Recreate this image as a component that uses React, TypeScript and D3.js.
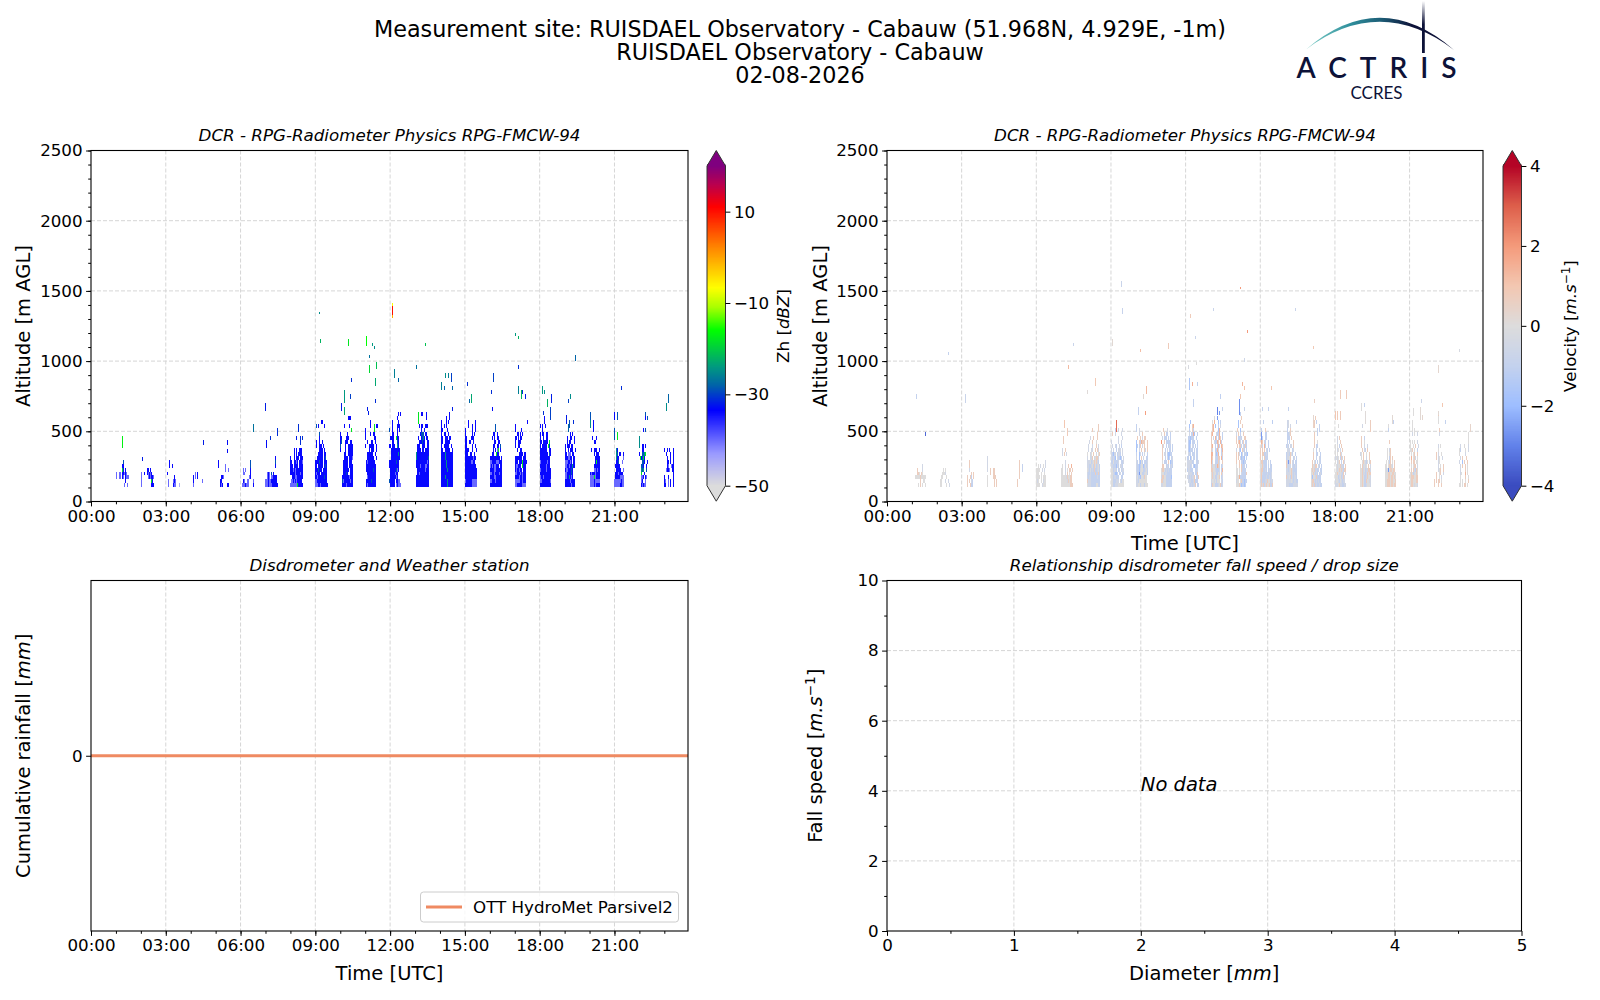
import React, { useRef, useEffect } from 'react';
import * as d3 from 'd3';

const WIDTH = 1600;
const HEIGHT = 1000;

// radar cells: hourly bursts, 2.4 min columns, ~28 m range gates, lowest gate at 100 m
const columnHours = 0.04;
const gateMetres = 28.4;
const firstGate = 100;

const zhLevels: Record<string, number> = { l: -45, m: -40, b: -34, d: -29, t: -25, g: -18 };
const velLevels: Record<string, number> = { n: 0, i: -0.5, u: -1, v: -1.7, w: -2.6, x: -3.3, s: 0.7, o: 1.4, p: 2, r: 2.8 };

const zhBurstHours = [1.01, 2.01, 3.04, 4.08, 5.08, 6.04, 6.99, 7.99, 8.99, 9.99, 10.99, 11.97, 13.03, 14.03, 14.99, 16.0, 17.0, 18.0, 19.0, 20.0, 21.0, 22.0, 22.98];

// top gate first, bottom row is the 100 m gate
const zhBursts: string[][] = [
  ['       d', '      bb', '      gb b', 'm  mm bbmbm', 'm  mm bm bmmm', '         b', '        m  m'],
  ['      bb b', 'm  b  bmbmb', 'm      mbmbbm', 'm         gb', 'm         bbb'],
  ['  b', '  b  b', '', 'b', '       b', ' m    mbm', ' m    bmm   l'],
  ['  m b', 'b m b', 'b        m', 'm'],
  ['b', 'b      m', '       m  m', '', '   bbm', '  bb', '  bmb    bb'],
  ['        d', '        d', ' m m    b', ' mm     b', '       mb', ' bm  mm    m', 'mmmbmmm    b'],
  ['          b', '          d', '          b', '', '  mbm d b', '  mbm mmbbbb', 'mmmbmmbbbbbb', 'mmmbmmmbbbbbb'],
  ['    b b  bbb', '    b b bbbb', 'b   b bbb bbb', 'bb  bbmb bbbm', 'bbb bbbb bbbb', 'bbbmbmbbbbbbb', 'bbbbbmbbbbmbb', '  bbbmmbbbbbb', ' mmbmbmbbbbb', 'mmmmmmmgbbbbb'],
  ['      bb', ' d b     b', '', '    d', '    b', ' b  b  b', ' b  bbb b', '    bbbb b', '   bbbbb bb', '  bbbbbb bd', 'bbbbdbbb bbb', 'bb bbbbb bdb', 'bbbdbbb bbbb', 'bmbbb bbbbbb', 'bbmbbbbbbdbb', 'mmbbbbbbbbbb', 'mmmbbmbbbbbbb'],
  ['        bbb', '', '    b    b', '           g', 'b      b', 'bb    bbb', 'bd   bbb  bb', 'd    b  bbbbb', 'b    b  bbbbb', '    bb  bbbbb', '    bbbb bbbm', '   bbbbb bbb', '   bbbbb bbbb', '   bbbbbb bbb', '   bbbdb  bbb', '  bbbbbbbmbbb', '  dmbbbbbbmbb', '  bbbbmbbbbbb'],
  ['     b', '     b   g bb', 'b        g', 'b    b  bb', 'b        bb', '  b   bb  b', 'b   bbbbb  b', '    b bbb  b', '  bbbbbb  b', '  bbbbbbb  b', ' bmbbbbbbb', ' bbbbbbbbbb', ' bbbbbbbdbb', '  bbbbbbbbb', '  mbbbbbbbb', ' bbbbbdbbbb', ' bmbbbbbbbb'],
  ['         b b', '        b', '   b     b', '   b    bbb', 'd  b    b b', '   bb   b', ' bbbb  gbb', '   bb   db', 'bb bbb  tb', '  bbbbbbbbb', '  bbbbbbbtb', '  bbbbbbbbb', 'bbbbbbbdbb', 'bbbbbbbbbb', ' bbbbbbdmb', ' bbbbbmbb', ' bbbbbbmb', 'dbbbbb bbmm', ' bbbbb mbmmm'],
  ['  g  bb   b', '  g       b', '  g', '   b bb  bbb', '     b  b', '    bddd bb', '  b  bdtb bb', '   bbbdbb  bb', ' bbb  bbb  bb', ' bbbb bb bbbb', 'tbbbbbbbbbbbb', 'tbbbbbbbbbbbd', 'bbbbbbbbbbbmb', 'bbbbmbbbbmmbb', ' bbbbbbbbmbbb', ' bbmbbbbbbbbb', 'bbbbbbbbbbbbb', 'bbbbbbbbbbbbb', 'bbbbbbbbbbbbb'],
  ['        b', '     b  b', 'b    b b', 'b  b b', 'bb    b', 'b  bb  b', 'bb  bbb bb', 'bb  bbbbb', 'b  bbbbb  b', 'bb  bbbbb  b', 'bbbbtbbbbbbb', 'bbbbtbbbbbbb', 'bbbbbtbbbbbb', 'bbbbbtbbbbbb', 'bbbbbbtbbbbb', 'bbbbbbbbbbbb', 'bbbbtbbbbbbb', 'bbbbbbtbbbbb', 'bbbbbbtbbbbb'],
  ['   b      b', '   b   b  b', 'b      b  b', 'b      b b', 'bb    bbb', 'bb  bb  b', 'bb     b  b', 'bbbb   b   b', 'bbb  bb  b', 'bbbbbbbbmbb', 'bbbbbbmmbb', 'bbbbbbbbbbb', 'bbbbbbbbbbbb', 'bbbbbbbbbbbb', 'bbbbbbbbbbbb', 'mbbbbbbmmmmm', 'bbbbbbbmmmmm'],
  ['     d', '     d', '   bb  b', '  b b  bb', '    bb  bb', '   bb  bb d', '   b b mg b', '  bb  gbb', 'bbbbbbbbbb b', 'mmbbbbmmmbbb', 'mbmbmmbbb bb', 'bbbbmmbbbbbb', 'mmbbmbbbbmbb', 'bbbbmmbbbbbb', 'mmbbbmbbbbbb', 'bbbbbbbbbbbb'],
  ['            b', 'b', 'b     b', '  bb b b', 'bb b bb', 'b  bbb', 'b  bb', '  b  bb', '    bbbb bb', 'bbbbbbb bbb', 'bbb bbbgbbbb', 'bmmbbb gbbb', 'bmbbmbb bbb', 'mmbbbmbmbbb', 'bbbbmbbmbbb', 'mmmmmbbmbbb', 'mmbbbbbmmmm'],
  ['    b', '    b', 'b b  b', '  b', 'b bb  bb', 'b  b  bb', 'bb bbbbb g', 'b bbbbb gb', 'bbbbbbb  bb', 'bbbbbbbb db', 'bbbbbbbbbb', 'mbbbbbbmbb', 'bbbbbbmbbb', 'mbbbbbmbbbb', 'bbbbbbbbbbb', 'mbbmbbbbbbb', 'mmbbbbbbbbm', 'bbbbbbbbbbb'],
  ['    d', '    d', '   b', '     b b', '  b  bb  b', '  b bb   b', 'b bbb bb', 'b  b bbb  b', 'bb mmm bb', 'bbbmmbb bb', 'mmmbbmb bb', 'mmbbmbbtbb', 'bmmbbbdb', 'mmbbbbdb', 'mmbbtbmb', 'bbbbbmbbbb', 'bbbbbbmbbb'],
  ['d', 'd', '   b', '   b', '   b', '', '  b   b', '    bb', '     ', ' b  bbb  b', '    b bbb', '     bbbbb', '     bgbbb', '    bbbbbb', '    mmbmbb', 'bmbbbmbbbb', 'mmmmgmbbbb', 'mmmmbmmmmm', 'mmmmbmbbbb'],
  ['b  d', 'b  d', '', '', 'd', 'd  g', 'd  g', '', '', '  tb', '  td bb  b', '  tbb    m', '  bbd   m', ' bbbbb', '  bbbbb  m', ' bbbmbbbb', ' bbbbbmmmm', 'mmmmmmmbmm', 'mmmmmmbbmm'],
  ['      d', '      b d', '', '', '    b d', '', 't', 't', 't  bb b', '   bb', 'b  ddtg', ' gbdgb', '   ddb  b', '  ddb  b', '  tdt  d', '  g  b', '  mmb bm', '  mb  m', '  bmbmm'],
  ['', '', '', '', '', 'b  b b   b', '  b   b  b', '   b  b  b', '   bb b  b', '   bm  mbb', '  mbbm  bb', '         b', 'b   b    b', 'bm  m b  b', 'bb  m b  b'],
];

const zhSpots: [number, number, number, number][] = [
  [1.24, 380, 467, -17], [2.04, 290, 320, -32], [4.48, 403, 438, -32], [5.44, 403, 438, -33], [5.44, 346, 375, -33],
  [6.48, 498, 552, -27], [6.99, 645, 700, -32], [7.48, 470, 520, -31], [7.2, 440, 470, -31], [7.04, 380, 440, -33],
  [8.32, 498, 552, -31], [8.24, 440, 470, -32], [8.47, 440, 470, -31], [8.39, 403, 467, -31],
  [9.16, 1332, 1353, -25], [9.2, 1127, 1155, -22], [10.32, 1105, 1155, -18], [11.04, 1105, 1176, -16], [11.28, 1105, 1127, -24],
  [11.36, 1084, 1105, -25], [11.16, 1020, 1040, -27], [11.44, 942, 996, -21], [11.16, 914, 970, -19], [10.44, 850, 878, -31],
  [11.4, 820, 878, -23], [10.4, 730, 765, -30], [11.4, 700, 730, -31], [10.16, 700, 793, -24], [10.04, 645, 700, -32],
  [10.16, 615, 670, -23], [11.08, 645, 672, -32], [11.12, 615, 645, -32],
  [12.08, 1395, 1415, -7], [12.08, 1330, 1395, 10], [12.08, 1310, 1330, -1],
  [12.16, 878, 942, -26], [12.32, 850, 878, -28], [13.4, 1105, 1127, -21], [13.04, 942, 970, -27], [14.2, 878, 914, -25],
  [14.33, 878, 914, -26], [14.45, 850, 914, -30], [14.05, 793, 850, -26], [14.17, 793, 822, -28], [14.49, 793, 822, -28],
  [14.49, 645, 672, -32], [15.09, 820, 850, -31], [16.13, 850, 914, -30], [16.05, 765, 793, -31], [15.25, 700, 765, -23],
  [15.17, 700, 730, -28], [16.09, 645, 672, -33], [17.01, 1176, 1197, -24], [17.13, 1155, 1176, -22], [17.13, 942, 970, -31],
  [17.13, 765, 822, -26], [17.25, 730, 793, -22], [17.3, 765, 793, -31], [17.41, 730, 765, -32], [19.42, 1000, 1040, -28],
  [18.1, 765, 822, -24], [18.18, 765, 793, -25], [18.46, 700, 765, -32], [18.3, 672, 730, -22], [18.42, 580, 672, -30],
  [18.13, 615, 645, -31], [19.22, 730, 765, -25], [19.14, 700, 730, -30], [19.06, 552, 615, -32], [19.34, 552, 580, -31],
  [19.14, 495, 552, -28], [20.02, 523, 580, -25], [21.26, 793, 822, -31], [23.15, 700, 765, -28], [23.07, 645, 700, -25],
];

const velBurstHours = [1.13, 2.11, 3.2, 4.0, 5.17, 6.0, 7.01, 8.03, 9.0, 10.0, 11.0, 12.0, 13.03, 14.03, 15.0, 16.03, 17.03, 18.0, 19.0, 20.0, 21.0, 22.0, 23.0];

const velBursts: string[][] = [
  ['       i', '  s    i', '  ssn sn', 'nnnnnsnnnnn', '     s  nn', '   n s n  n'],
  ['    n n', '   nnni', ' nnn   n', 'n n   i  i', 'n n    n  i'],
  ['  s', '  s', '  i', '    s s', 's  su s', 's s iu', 's  suu'],
  ['', 'i', 'i', 'i   ', 'i  s  ss', '   s  ss', 'n     ss s', 'n      s  s', 'n      s  s'],
  ['', '   s', '   s  u', '   s  u', '   s', '   s', ' s', ' s'],
  ['         i', '  n i  n i', 'nnnn  i i', 'nnn  n  n', 'nnnn n nnn', 'nin  n inn', 'nnnn  innn'],
  ['  s', '  s', '', ' i  s', ' i s i', '', '    i', ' n  i  s  o', 'nn  i n ss s', 'nn  i s n s', 'nnnnnisnnss', 'nnnnnnisnss', 'nnnnnnnnnsss'],
  ['           s', '     s     s', '          s', '   i  s   s', '  i  s   n', ' i   i   s i', ' i  ii  s si', 'n  in s  i ns', 'i  iis inssi', 'iiinuinsnsiu', 'iiuuinusnuinu', 'niunuiusuuinu', 'iuuiuuuusuusu', 'iuiiuuuuuuiuu', 'siiiuuuuuuuuu', 'niiiuuuuunnuu'],
  ['    u  i   i', ' s  i     i', '       i   i', 'i      i  i', ' i  iu  i u', 'i i  u iii i', 'iuvii uiiu i', 'iuiuv iuuvu i', 'uunuuuui  uui', 'iiuuuviu iiu', 'nnuiiu ui uii', 'nniuvvu ui uu', 'nnuiiuuu  uu', 'nnuuuiii iunn', 'nnuuiiinnnnnn'],
  ['u', 'u  i', '   i  s', ' s  s i ss', 'v  suosss  s', 'vu us i s  s', 'v  i s  si s', 'u  vi u i  u', 'i  v s i  uu', 'iu uvnu uuui', 'iuuvunnvunui', 'iuuvinnuuinu', 'nuuwnnuuinnu', 'inuuvnnisnn', 'iiunnnnnnnn', 'iinnunnnunnn'],
  ['  s   i', 'n  s uu  u', ' i uuu u u', 'p  s uuuui', ' si  u uiu u', ' s  u i uu u', ' s ii uvvuu', ' s  u ivu ui', ' n uuu s vuu', ' ss  uiu uiu', 'nssnuiuiuuu', 'nnnuiiuuuuu', 'issnnuuuuuv', 'ssinnuuuuuu', 'iinnnuuuuuu'],
  ['    v', '   v  so', '   u  su', '   i uuov  u', '  uuvuuu  u', '  uvv uuu  u', '  uvu iu u u', '  uvuuu u uu', '  iuu uuu uu', ' uu vi uu uu', ' iiiiiuu  uui', ' iiiui uvuuu', ' uiiuuu  uui', '  iiiiuu uus', ' iiuiuiis uus', '  iiiuuisuuu', '   iuiuiis uu'],
  ['   n  w', ' n o   v u', ' so v  u i', ' so    vo', 'so   iuuo  u', 's i ou uos u', 's  iuuos ou', 'so  u uou os', 'si  uuoi  uo', 'oo  ivuo  us', 'os  iuuss ou', 'oi  uuusi  s', 'sinnuiosi ui', 'ssnniuuui uo', 'nsinnuuni si', 'nsinuunns ui', 'inninunnn iu', 'usnnuuuinsui'],
  ['    u', '     s', '  v s', '  v   s', ' s  v', 'i s u  s', 's uuiu  ss', 's soi us uu', ' s ssu iusu', 'i  uv siu u', 's si vi uuuv', 's s ivuuv u', 's  s uuvuu', 'n  s suuu u', 'nn n suuuu', 'nn n iuuuus', 'nnnouuuuuu', 'inn nsuuvuu', 'nnnsivuuvu'],
  ['i  u', '', ' u   s', ' w   uu', ' wu  uu', ' os iu  u', ' si ou  u', 's s s iu u', 's ssuuiu', 's n suuu', 'nssuuuu i u', 'nnsiuuu u uu', 'nssuuiu uiuu', 'nsiuuuuiuuui', 'nsuuuuiuuiui', 'isuuuiisnnuii', 'nsisuisnnsuus'],
  ['  i', '  i i', ' u  s', ' uuis', ' uuu s', ' u u   s', 'uiu ii s', ' iii  ui', 'uiiusnu  u', 'uiins  ui u', 'siwis iu uu', 'siuii iuuiu', 'iiuinsiuuuu', 'iiiinsiuiuu', 'siinusiuiiu', 'iiiiiniuiiuu', 'iiiuuuuiiiii'],
  ['    s', '   s u', '   s', '      u', '   s  u', '   s', '   s  n', '   s uu', '  n  u  i', '  s  uu  u', '  s  u  iu', ' s nu u iu', ' sniss iu u', 'nsnsuiuu uu', 'nnsiuiu uiu', 'nvnnisuuuu', 'nssiuiuiuu', 'nsisuiuuiuu'],
  ['   n', '', '', '  i s', '  i  s', 'n n u s', 'n in i s', 'n n  si', 'inin usi s', 'n ins u si', ' ninnsiiu s', ' ninsnsiuss', 'nnsninius i', 'nnnuinuisi', 'inniuniuii', 'iiinsiiuuii'],
  ['  i', '', '', ' s  u', ' s  n', ' s  i  i', '  s iu s', 'in s  n  s', ' n s  i  s', '  nsniun is', 'n sinin s i', 'nnsinuiissi', 'nnsiiuisnss', 'nnsnuuisnni', 'nnsnuusnnii', 'nnsnuuinnni'],
  ['   n', '   u', '', '', '    s', '', '  n is', '  n ns', '  n us s', ' n nus n s', 'nn nssni s', 'ninwnssnss', 'nnnssnnssnn', 'nnnssnssnsn', 'nnsssnssnns', 'nnsssnssnss'],
  ['   n', '   n', '', '  n', '  n', '  n n', '  i n  i', '', 'n n n  i', 'n  n s  i', 'nns n  u', ' n ns  s', ' o nsi n', ' s ss nn', ' n nss i', ' s siusn', 'nsnuinsn', 'nsssnnss', 'nssnnnss', 'nssninni'],
  ['    s', '    n', '    n', '', '     s', '     i', '', '', '    i n', '    n', '  s i  n', '  s in  i', '    in', '    i n  s', '    ins  s', '  s  ns  i', '  s  n i', 's s ss n', 's   s  s'],
  ['', '', '', '', '', '         n', '         n', '         n', ' i   n   i', 'nu    n  i', 'n     i', ' i s   s', 'i  v s  s', ' i s  s n', ' i    s n', ' in   o n', ' n    s  n', ' n n  n  s', 'nn n ss n'],
];

const velSpots: [number, number, number, number][] = [
  [1.15, 730, 765, -1], [1.51, 467, 495, -3.5], [2.47, 1040, 1062, -1], [3.15, 700, 765, -0.8], [7.47, 1105, 1127, -0.8],
  [7.27, 942, 970, 1.3], [8.35, 820, 878, 0.9], [8.03, 765, 793, 0.1], [7.1, 523, 580, 1], [7.23, 467, 523, 0.8],
  [9.05, 1105, 1155, 0.2], [9.39, 1530, 1570, -0.8], [9.43, 1332, 1375, -0.9], [10.15, 1062, 1084, 1.2], [11.31, 1084, 1127, 0.8],
  [10.39, 765, 822, 1.3], [10.28, 730, 765, 0.2], [10.08, 615, 672, -1], [10.36, 615, 645, 1.9], [9.19, 495, 580, 2.8],
  [14.2, 1510, 1530, 2], [12.16, 1310, 1332, 0.8], [13.12, 1354, 1375, -0.8], [16.4, 1354, 1375, -0.8], [14.48, 1197, 1218, 2],
  [12.36, 1155, 1176, -0.8], [17.12, 1084, 1105, 0.9], [14.36, 994, 1020, -0.6], [12.4, 970, 996, 0], [12.08, 942, 970, -0.2],
  [12.12, 793, 878, -1.6], [12.24, 820, 850, 1.5], [12.44, 820, 850, -1], [14.28, 820, 850, 1.4], [14.36, 793, 820, 1.1],
  [15.44, 793, 822, 1], [13.4, 730, 765, -1.1], [22.16, 914, 970, 0.3], [23.0, 1062, 1084, -0.3], [18.2, 730, 793, 0.8],
  [18.44, 730, 793, 0.8], [17.16, 700, 730, 0.6], [12.28, 672, 730, -1], [14.19, 730, 765, 0.9], [14.13, 615, 730, -2.8],
  [14.36, 645, 672, -0.8], [13.48, 645, 672, -0.9], [15.08, 645, 672, -1], [15.32, 645, 672, -1], [16.12, 645, 672, -1],
  [19.03, 645, 700, 0], [19.16, 672, 700, -1], [13.27, 615, 672, -3], [13.36, 615, 645, -2.6], [13.04, 615, 672, 0.2],
  [21.44, 700, 730, -0.7], [22.32, 672, 700, 1], [22.16, 615, 645, 0.2], [21.4, 580, 672, 0.2], [21.48, 580, 615, 0.3],
  [20.28, 552, 615, 0.2], [19.21, 552, 645, 0.1], [17.99, 580, 645, 1], [18.08, 580, 645, 0.8], [18.2, 580, 645, 0.8],
  [17.12, 580, 615, 0.3], [20.32, 552, 580, -1], [22.44, 552, 580, -1], [23.44, 495, 552, 0.4], [15.48, 552, 580, -1.2],
  [16.08, 523, 580, -0.6], [16.44, 552, 580, -1], [17.36, 495, 552, -1], [17.12, 523, 580, 0.5], [19.39, 495, 580, 0.7],
];

const zhStops = [-50, -43, -33.5, -28, -24, -16, -11, -6.7, 2.5, 11, 16, 20];
const zhColors = ['#dcdcdc', '#9a9aff', '#0000ff', '#0064a8', '#009a80', '#00ff00', '#a8ff00', '#ffff00', '#ff8000', '#ff0000', '#b80050', '#7f007f'];
const velStops = [-4, -3, -2, -1, 0, 1, 2, 3, 4];
const velColors = ['#3b4cc0', '#6282ea', '#9ebeff', '#c4d2ee', '#dddcdc', '#f3c7b1', '#f49a7b', '#dd5f4b', '#b40426'];

const hourTicks = [0, 3, 6, 9, 12, 15, 18, 21];
const hourMinorTicks = d3.range(0, 24);
const altitudeTicks = [0, 500, 1000, 1500, 2000, 2500];
const altitudeMinorTicks = d3.range(0, 2501, 100);
const diameterTicks = [0, 1, 2, 3, 4, 5];
const diameterMinorTicks = [0.5, 1.5, 2.5, 3.5, 4.5];
const fallSpeedTicks = [0, 2, 4, 6, 8, 10];
const fallSpeedMinorTicks = [1, 3, 5, 7, 9];
const zhBarTicks = [10, -10, -30, -50];
const velBarTicks = [4, 2, 0, -2, -4];
const rainfallTimes = [0, 24];
const rainfallValues = [0, 0];

const FONT = '"DejaVu Sans", sans-serif';
const GRID = '#d6d6d6';
const NAVY = '#0d1238';
const TICK_SIZE = 16.7;
const LABEL_SIZE = 19.5;

const hhmm = (h: number) => `${String(h).padStart(2, '0')}:00`;
const minus = (v: number | string) => String(v).replace('-', '\u2212');

const App: React.FC = () => {
  const svgRef = useRef<SVGSVGElement>(null);

  useEffect(() => {
    if (!svgRef.current) return;
    const svg = d3.select(svgRef.current);
    svg.selectAll('*').remove();
    svg.attr('font-family', FONT).attr('fill', '#000');
    const defs = svg.append('defs');

    const zhColor = d3.scaleLinear<string>().domain(zhStops).range(zhColors).clamp(true);
    const velColor = d3.scaleLinear<string>().domain(velStops).range(velColors).clamp(true);

    const drawFrame = (
      x: d3.ScaleLinear<number, number>, y: d3.ScaleLinear<number, number>,
      xTicks: number[], xMinor: number[], yTicks: number[], yMinor: number[],
      xFmt: (v: number) => string, title: string,
    ) => {
      const [x0, x1] = x.range();
      const [y1, y0] = y.range();
      const g = svg.append('g');
      const grid = g.append('g').attr('stroke', GRID).attr('stroke-width', 1).attr('stroke-dasharray', '4,2');
      xTicks.filter(t => t > x.domain()[0] && t < x.domain()[1]).forEach(t => {
        grid.append('line').attr('x1', x(t)).attr('x2', x(t)).attr('y1', y0).attr('y2', y1);
      });
      yTicks.filter(t => t > y.domain()[0] && t < y.domain()[1]).forEach(t => {
        grid.append('line').attr('y1', y(t)).attr('y2', y(t)).attr('x1', x0).attr('x2', x1);
      });
      const marks = g.append('g');
      const axes = g.append('g');
      const addAxis = (sel: any) => {
        sel.selectAll('.domain').remove();
        sel.selectAll('text').attr('font-size', TICK_SIZE).attr('font-family', FONT).attr('fill', '#000');
        sel.selectAll('line').attr('stroke', '#000').attr('stroke-width', 1);
      };
      axes.append('g').attr('transform', `translate(0,${y1})`)
        .call(d3.axisBottom(x).tickValues(xMinor.filter(t => t <= x.domain()[1])).tickSize(2.8).tickFormat(() => ''))
        .call(addAxis);
      axes.append('g').attr('transform', `translate(0,${y1})`)
        .call(d3.axisBottom(x).tickValues(xTicks).tickSize(4.9).tickPadding(3.5).tickFormat(d => xFmt(+d)))
        .call(addAxis);
      axes.append('g').attr('transform', `translate(${x0},0)`)
        .call(d3.axisLeft(y).tickValues(yMinor).tickSize(2.8).tickFormat(() => ''))
        .call(addAxis);
      axes.append('g').attr('transform', `translate(${x0},0)`)
        .call(d3.axisLeft(y).tickValues(yTicks).tickSize(4.9).tickPadding(3.5).tickFormat(d => String(d)))
        .call(addAxis);
      axes.append('rect').attr('x', x0).attr('y', y0).attr('width', x1 - x0).attr('height', y1 - y0)
        .attr('fill', 'none').attr('stroke', '#000').attr('stroke-width', 1.1);
      svg.append('text').attr('x', (x0 + x1) / 2).attr('y', y0 - 9.5).attr('text-anchor', 'middle')
        .attr('font-size', TICK_SIZE).attr('font-style', 'italic').text(title);
      return marks;
    };

    const axisLabel = (x: number, y: number, rotate: boolean) => {
      const t = svg.append('text').attr('text-anchor', 'middle').attr('font-size', LABEL_SIZE);
      t.attr('transform', rotate ? `translate(${x},${y}) rotate(-90)` : `translate(${x},${y})`);
      return t;
    };

    const drawCells = (
      marks: d3.Selection<SVGGElement, unknown, null, undefined>,
      x: d3.ScaleLinear<number, number>, y: d3.ScaleLinear<number, number>,
      hours: number[], bursts: string[][], levels: Record<string, number>,
      spots: [number, number, number, number][], color: (v: number) => string,
    ) => {
      const w = x(columnHours) - x(0);
      const cells: { t: number; a0: number; a1: number; v: number }[] = [];
      bursts.forEach((rows, b) => {
        rows.forEach((row, r) => {
          const gate = rows.length - 1 - r;
          row.split('').forEach((c, col) => {
            if (levels[c] === undefined) return;
            cells.push({
              t: hours[b] + col * columnHours,
              a0: firstGate + gate * gateMetres,
              a1: firstGate + (gate + 1) * gateMetres,
              v: levels[c],
            });
          });
        });
      });
      spots.forEach(([t, a0, a1, v]) => cells.push({ t, a0, a1, v }));
      marks.selectAll('rect.cell').data(cells).enter().append('rect')
        .attr('class', 'cell')
        .attr('x', d => x(d.t))
        .attr('y', d => y(d.a1))
        .attr('width', w)
        .attr('height', d => y(d.a0) - y(d.a1))
        .attr('fill', d => color(d.v))
        .attr('shape-rendering', 'crispEdges');
    };

    const drawColorbar = (
      x0: number, x1: number, bar: d3.ScaleLinear<number, number>, ticks: number[],
      color: (v: number) => string,
    ) => {
      const [vMin, vMax] = bar.domain();
      const [yBottom, yTop] = bar.range();
      const g = svg.append('g');
      const tip = 15.5;
      const steps = d3.range(0, 256).map(i => vMin + ((vMax - vMin) * i) / 255);
      g.selectAll('rect').data(steps).enter().append('rect')
        .attr('x', x0).attr('width', x1 - x0)
        .attr('y', d => bar(d) - (yBottom - yTop) / 255 - 0.5)
        .attr('height', (yBottom - yTop) / 255 + 1)
        .attr('fill', d => color(d));
      const mid = (x0 + x1) / 2;
      g.append('path').attr('d', `M${x0},${yTop}L${mid},${yTop - tip}L${x1},${yTop}Z`).attr('fill', color(vMax));
      g.append('path').attr('d', `M${x0},${yBottom}L${mid},${yBottom + tip}L${x1},${yBottom}Z`).attr('fill', color(vMin));
      g.append('path')
        .attr('d', `M${x0},${yTop}L${mid},${yTop - tip}L${x1},${yTop}L${x1},${yBottom}L${mid},${yBottom + tip}L${x0},${yBottom}Z`)
        .attr('fill', 'none').attr('stroke', '#333').attr('stroke-width', 1);
      const axis = g.append('g').attr('transform', `translate(${x1},0)`)
        .call(d3.axisRight(bar).tickValues(ticks).tickSize(4.9).tickPadding(3.5).tickFormat(d => minus(String(d))));
      axis.select('.domain').remove();
      axis.selectAll('text').attr('font-size', TICK_SIZE).attr('font-family', FONT).attr('fill', '#000');
      axis.selectAll('line').attr('stroke', '#000').attr('stroke-width', 1);
      return g;
    };

    // top-left reflectivity
    const xZh = d3.scaleLinear().domain([0, 23.95]).range([91, 688]);
    const yZh = d3.scaleLinear().domain([0, 2500]).range([501.5, 150.5]);
    const zhMarks = drawFrame(xZh, yZh, hourTicks, hourMinorTicks, altitudeTicks, altitudeMinorTicks, hhmm,
      'DCR - RPG-Radiometer Physics RPG-FMCW-94');
    drawCells(zhMarks, xZh, yZh, zhBurstHours, zhBursts, zhLevels, zhSpots, zhColor);
    axisLabel(30, yZh(1250), true).text('Altitude [m AGL]');

    // top-right velocity
    const xVel = d3.scaleLinear().domain([0, 23.95]).range([887, 1483]);
    const yVel = d3.scaleLinear().domain([0, 2500]).range([501.5, 150.5]);
    const velMarks = drawFrame(xVel, yVel, hourTicks, hourMinorTicks, altitudeTicks, altitudeMinorTicks, hhmm,
      'DCR - RPG-Radiometer Physics RPG-FMCW-94');
    drawCells(velMarks, xVel, yVel, velBurstHours, velBursts, velLevels, velSpots, velColor);
    axisLabel(826.5, yVel(1250), true).text('Altitude [m AGL]');
    axisLabel((887 + 1483) / 2, 550, false).text('Time [UTC]');

    // colorbars
    const barZh = d3.scaleLinear().domain([-50, 20]).range([485.7, 166]);
    const zhBar = drawColorbar(707, 725.5, barZh, zhBarTicks, zhColor);
    const zhLabel = zhBar.append('text').attr('transform', 'translate(789,326) rotate(-90)').attr('text-anchor', 'middle').attr('font-size', TICK_SIZE);
    zhLabel.append('tspan').text('Zh [');
    zhLabel.append('tspan').attr('font-style', 'italic').text('dBZ');
    zhLabel.append('tspan').text(']');

    const barVel = d3.scaleLinear().domain([-4, 4]).range([485.7, 166]);
    const velBar = drawColorbar(1503, 1521.5, barVel, velBarTicks, velColor);
    const velLabel = velBar.append('text').attr('transform', 'translate(1576,326) rotate(-90)').attr('text-anchor', 'middle').attr('font-size', TICK_SIZE);
    velLabel.append('tspan').text('Velocity [');
    velLabel.append('tspan').attr('font-style', 'italic').text('m.s');
    velLabel.append('tspan').attr('dy', -6).attr('font-size', 12).text('\u22121');
    velLabel.append('tspan').attr('dy', 6).text(']');

    // bottom-left cumulative rainfall
    const xRain = d3.scaleLinear().domain([0, 23.95]).range([91, 688]);
    const yRain = d3.scaleLinear().domain([-1, 1]).range([931, 580.5]);
    const rainMarks = drawFrame(xRain, yRain, hourTicks, hourMinorTicks, [0], [], hhmm, 'Disdrometer and Weather station');
    defs.append('clipPath').attr('id', 'rain-clip').append('rect')
      .attr('x', 91).attr('y', 580).attr('width', 597).attr('height', 351);
    const rainLine = d3.line<number>().x((_, i) => xRain(rainfallTimes[i])).y(d => yRain(d));
    rainMarks.append('path').attr('d', rainLine(rainfallValues))
      .attr('clip-path', 'url(#rain-clip)')
      .attr('fill', 'none').attr('stroke', '#ef8a62').attr('stroke-width', 2.8);
    axisLabel(30, yRain(0), true).call(t => {
      t.append('tspan').text('Cumulative rainfall [');
      t.append('tspan').attr('font-style', 'italic').text('mm');
      t.append('tspan').text(']');
    });
    axisLabel((91 + 688) / 2, 979.5, false).text('Time [UTC]');

    const legend = svg.append('g');
    legend.append('rect').attr('x', 420.5).attr('y', 892).attr('width', 258).attr('height', 30).attr('rx', 3)
      .attr('fill', '#fff').attr('fill-opacity', 0.8).attr('stroke', '#ccc').attr('stroke-width', 1);
    legend.append('line').attr('x1', 426).attr('x2', 462).attr('y1', 907).attr('y2', 907)
      .attr('stroke', '#ef8a62').attr('stroke-width', 2.8);
    legend.append('text').attr('x', 473).attr('y', 912.5).attr('font-size', TICK_SIZE).text('OTT HydroMet Parsivel2');

    // bottom-right fall speed
    const xFall = d3.scaleLinear().domain([0, 5]).range([887, 1521.5]);
    const yFall = d3.scaleLinear().domain([0, 10]).range([931, 580.5]);
    drawFrame(xFall, yFall, diameterTicks, diameterMinorTicks, fallSpeedTicks, fallSpeedMinorTicks, String,
      'Relationship disdrometer fall speed / drop size');
    svg.append('text').attr('x', xFall(2)).attr('y', yFall(4)).attr('font-size', LABEL_SIZE).attr('font-style', 'italic').text('No data');
    axisLabel(822, yFall(5), true).call(t => {
      t.append('tspan').text('Fall speed [');
      t.append('tspan').attr('font-style', 'italic').text('m.s');
      t.append('tspan').attr('dy', -7).attr('font-size', 13.6).text('\u22121');
      t.append('tspan').attr('dy', 7).text(']');
    });
    axisLabel((887 + 1521.5) / 2, 979.5, false).call(t => {
      t.append('tspan').text('Diameter [');
      t.append('tspan').attr('font-style', 'italic').text('mm');
      t.append('tspan').text(']');
    });

    // heading
    ['Measurement site: RUISDAEL Observatory - Cabauw (51.968N, 4.929E, -1m)', 'RUISDAEL Observatory - Cabauw', '02-08-2026']
      .forEach((line, i) => {
        svg.append('text').attr('x', 800).attr('y', 36.5 + i * 23).attr('text-anchor', 'middle').attr('font-size', 22.3).text(line);
      });

    // ACTRIS logo
    const arcGrad = defs.append('linearGradient').attr('id', 'logo-arc').attr('gradientUnits', 'userSpaceOnUse')
      .attr('x1', 1306).attr('x2', 1454).attr('y1', 0).attr('y2', 0);
    [[0, '#7fcfc8'], [0.3, '#2f8f9c'], [0.5, '#1d5f78'], [0.72, '#0d1238'], [1, NAVY]].forEach(([o, c]) => {
      arcGrad.append('stop').attr('offset', o as number).attr('stop-color', c as string);
    });
    const barGrad = defs.append('linearGradient').attr('id', 'logo-bar').attr('x1', 0).attr('x2', 0).attr('y1', 0).attr('y2', 1);
    [[0, '#ffffff'], [0.45, NAVY], [1, NAVY]].forEach(([o, c]) => {
      barGrad.append('stop').attr('offset', o as number).attr('stop-color', c as string);
    });
    const arc = d3.path();
    arc.moveTo(1306, 49.5);
    arc.quadraticCurveTo(1380, -14, 1454, 50);
    arc.quadraticCurveTo(1380, -6, 1306, 49.5);
    svg.append('path').attr('d', arc.toString()).attr('fill', 'url(#logo-arc)');
    svg.append('rect').attr('x', 1422).attr('y', 1).attr('width', 2.8).attr('height', 52).attr('fill', 'url(#logo-bar)');
    svg.append('text').attr('x', 1296.5).attr('y', 78).attr('font-family', 'Lato, sans-serif').attr('font-size', 28).attr('font-weight', 600)
      .attr('fill', NAVY).attr('textLength', 160).attr('lengthAdjust', 'spacing').text('ACTRIS');
    svg.append('text').attr('x', 1376.5).attr('y', 98.5).attr('text-anchor', 'middle').attr('font-family', 'Lato, sans-serif')
      .attr('font-size', 17).attr('fill', NAVY).text('CCRES');
  }, []);

  return <svg ref={svgRef} width={WIDTH} height={HEIGHT} style={{ position: 'absolute', left: 0, top: 0 }} />;
};

export default App;
